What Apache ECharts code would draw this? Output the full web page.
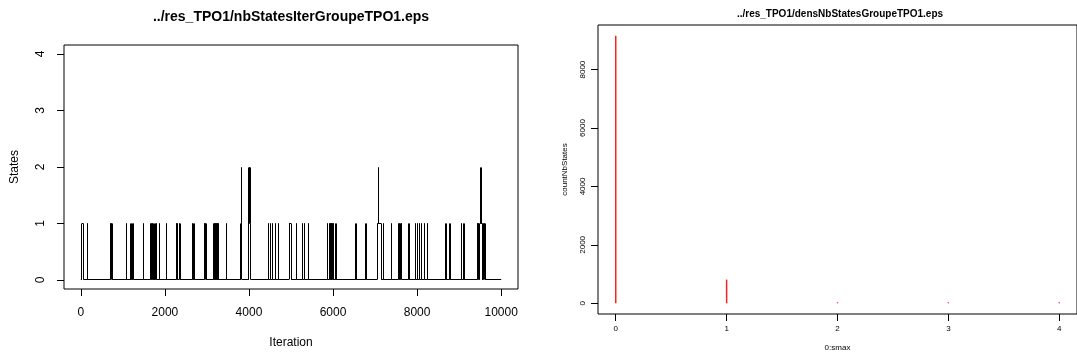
<!DOCTYPE html>
<html>
<head>
<meta charset="utf-8">
<script src="https://cdn.jsdelivr.net/npm/echarts@6/dist/echarts.min.js"></script>
<style>
html,body{margin:0;padding:0;background:#fff;}
#chart{width:1077px;height:361px;}
</style>
</head>
<body>
<div id="chart"></div>
<script>
// ---- Left panel: state trace (change points of a step function) ----
const traceIter = [0,
28,60, 162,170, 700,712, 725,745, 1090,1098, 1192,1200, 1238,1250, 1485,1493,
1662,1675, 1690,1700, 1710,1722, 1763,1771, 1794,1802, 1875,1883, 2041,2049,
2270,2282, 2295,2305, 2345,2360, 2650,2658, 2690,2698, 2936,2950, 2962,2982,
3163,3170, 3180,3186, 3195,3200, 3210,3216, 3225,3230, 3240,3246, 3255,3262, 3268,3274,
3468,3476, 3810,3826,3832, 4000,4010,4014,4028,4040,
4467,4475, 4514,4522, 4562,4570, 4624,4632, 4704,4712, 4953,5001, 5132,5140,
5275,5283, 5313,5323, 5410,5418,
5860,5870, 5905,5915, 5930,5938, 5945,5952, 5960,5968, 5975,5982, 5990,6000, 6005,6012, 6066,6074,
6543,6551, 6781,6789, 7053,7085,7092,7148, 7192,7200, 7392,7400,
7560,7575, 7590,7600, 7620,7636, 7803,7811,
7962,7970, 8000,8008, 8056,8064, 8106,8114, 8166,8174, 8236,8248,
8683,8691, 8778,8786, 9047,9055, 9111,9119,
9425,9440, 9455,9470, 9490,9515,9522,9545, 9565,9580, 9598,9615,
10000];
const traceState = [0,
1,0, 1,0, 1,0, 1,0, 1,0, 1,0, 1,0, 1,0,
1,0, 1,0, 1,0, 1,0, 1,0, 1,0, 1,0,
1,0, 1,0, 1,0, 1,0, 1,0, 1,0, 1,0,
1,0, 1,0, 1,0, 1,0, 1,0, 1,0, 1,0, 1,0,
1,0, 1,2,0, 2,1,2,1,0,
1,0, 1,0, 1,0, 1,0, 1,0, 1,0, 1,0,
1,0, 1,0, 1,0,
1,0, 1,0, 1,0, 1,0, 1,0, 1,0, 1,0, 1,0, 1,0,
1,0, 1,0, 1,2,1,0, 1,0, 1,0,
1,0, 1,0, 1,0, 1,0,
1,0, 1,0, 1,0, 1,0, 1,0, 1,0,
1,0, 1,0, 1,0, 1,0,
1,0, 1,0, 1,2,1,0, 1,0, 1,0,
0];
const leftXTicks = [0, 2000, 4000, 6000, 8000, 10000];
const leftYTicks = [0, 1, 2, 3, 4];

// ---- Right panel: counts per number of states ----
const nbStates = [0, 1, 2, 3, 4];
const countNbStates = [9160, 810, 31, 0, 0];
const rightYTicks = [0, 2000, 4000, 6000, 8000];

const FONT = "'Liberation Sans', Arial, Helvetica, sans-serif";

const traceData = traceIter.map((x, i) => [x, traceState[i]]);
const barData = nbStates.map((x, i) => [x, countNbStates[i]]);

// R style 4% range extension
function ext(lo, hi) { const d = (hi - lo) * 0.04; return [lo - d, hi + d]; }
const lx = ext(0, 10000), ly = ext(0, 4);
const rx = ext(0, 4), ry = ext(0, Math.max(...countNbStates));

const chart = echarts.init(document.getElementById('chart'), null, {renderer: 'canvas'});

function axisCommon(ticks, fs, margin, rotate) {
  return {
    axisLine: {show: false, onZero: false},
    splitLine: {show: false},
    axisTick: {show: true, inside: false, length: 7, customValues: ticks,
      lineStyle: {color: '#000', width: 1}},
    axisLabel: {show: true, customValues: ticks, color: '#000', fontFamily: FONT,
      fontSize: fs, margin: margin, rotate: rotate || 0, hideOverlap: false,
      formatter: v => String(v), showMinLabel: true, showMaxLabel: true}
  };
}

const px = v => Math.round(v - 0.5) + 0.5;

function renderStep(params, api) {
  const i = params.dataIndex;
  if (i >= traceData.length - 1) return null;
  const a = api.coord([api.value(0), api.value(1)]);
  const nxt = traceData[i + 1];
  const b = api.coord([nxt[0], api.value(1)]);
  const c = api.coord([nxt[0], nxt[1]]);
  const st = {stroke: '#000', lineWidth: 1, fill: null};
  const children = [
    {type: 'line', shape: {x1: a[0], y1: px(a[1]), x2: b[0], y2: px(b[1])}, style: st, silent: true}
  ];
  if (nxt[1] !== api.value(1)) {
    children.push({type: 'line', shape: {x1: px(b[0]), y1: px(b[1]), x2: px(c[0]), y2: px(c[1])},
      style: st, silent: true});
  }
  return {type: 'group', children: children};
}

chart.setOption({
  animation: false,
  backgroundColor: '#fff',
  title: [
    {text: '../res_TPO1/nbStatesIterGroupeTPO1.eps', left: 291, top: 10, padding: 0, textAlign: 'center',
      textStyle: {fontFamily: FONT, fontWeight: 'bold', fontSize: 14, color: '#000'}},
    {text: '../res_TPO1/densNbStatesGroupeTPO1.eps', left: 840, top: 9, padding: 0, textAlign: 'center',
      textStyle: {fontFamily: FONT, fontWeight: 'bold', fontSize: 10, color: '#000'}}
  ],
  grid: [
    {left: 64, right: 1077 - 518, top: 45, bottom: 361 - 289, show: true,
      borderColor: '#000', borderWidth: 1, backgroundColor: 'transparent', containLabel: false},
    {left: 598, right: -5, top: 25, bottom: 361 - 314, show: true,
      borderColor: '#000', borderWidth: 1, backgroundColor: 'transparent', containLabel: false}
  ],
  xAxis: [
    Object.assign({type: 'value', gridIndex: 0, min: lx[0], max: lx[1],
      name: 'Iteration', nameLocation: 'middle', nameGap: 48,
      nameTextStyle: {fontFamily: FONT, fontSize: 12, color: '#000'}},
      axisCommon(leftXTicks, 12, 18)),
    Object.assign({type: 'value', gridIndex: 1, min: rx[0], max: rx[1],
      name: '0:smax', nameLocation: 'middle', nameGap: 30,
      nameTextStyle: {fontFamily: FONT, fontSize: 8, color: '#000'}},
      axisCommon(nbStates, 8, 11))
  ],
  yAxis: [
    Object.assign({type: 'value', gridIndex: 0, min: ly[0], max: ly[1],
      name: 'States', nameLocation: 'middle', nameGap: 43,
      nameTextStyle: {fontFamily: FONT, fontSize: 12, color: '#000'}},
      axisCommon(leftYTicks, 12, 17, 90)),
    Object.assign({type: 'value', gridIndex: 1, min: ry[0], max: ry[1],
      name: 'countNbStates', nameLocation: 'middle', nameGap: 29,
      nameTextStyle: {fontFamily: FONT, fontSize: 8, color: '#000'}},
      axisCommon(rightYTicks, 8, 11, 90))
  ],
  series: [
    {type: 'custom', xAxisIndex: 0, yAxisIndex: 0, data: traceData, encode: {x: 0, y: 1},
      renderItem: renderStep, silent: true},
    {type: 'bar', xAxisIndex: 1, yAxisIndex: 1, data: barData, barWidth: 1.5, barMinHeight: 1,
      itemStyle: {color: '#ff2020'}, silent: true}
  ]
});
</script>
</body>
</html>
